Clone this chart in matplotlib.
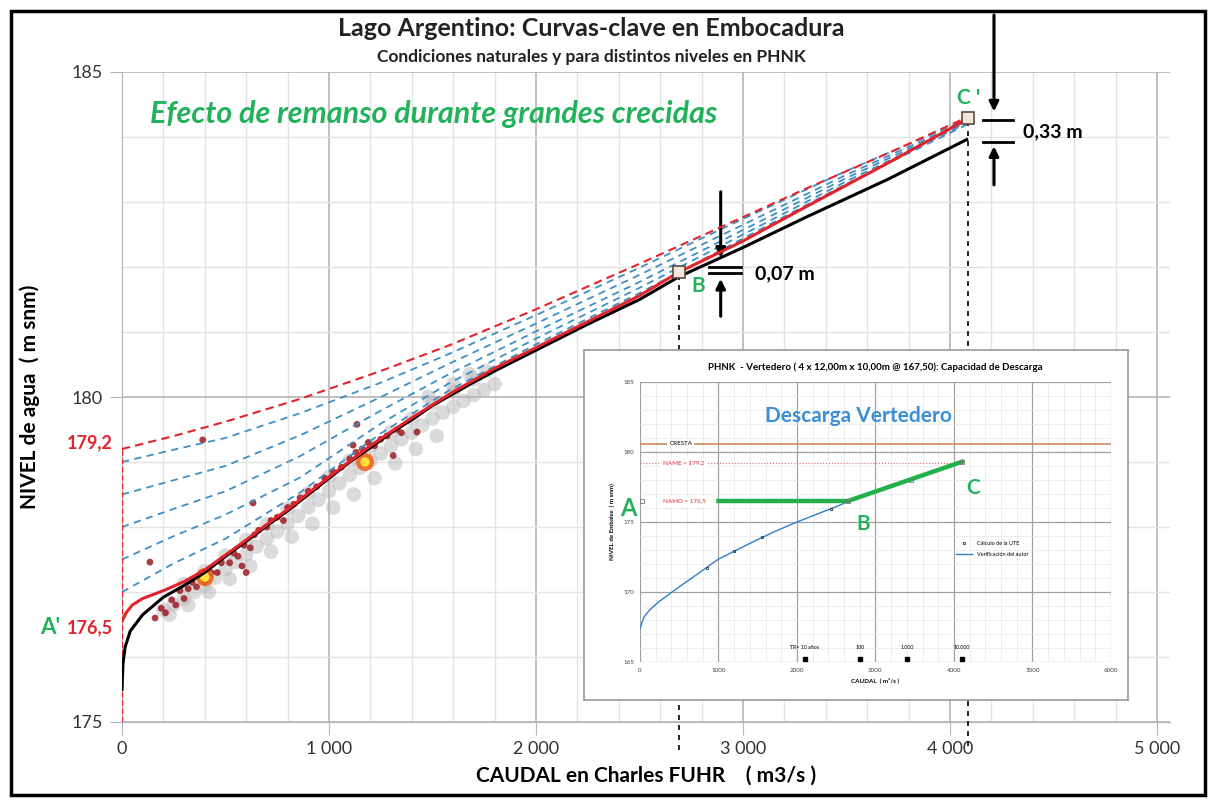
import matplotlib
matplotlib.use('Agg')
import matplotlib.pyplot as plt
from matplotlib.patches import Rectangle

plt.rcParams['font.family'] = ['Lato', 'DejaVu Sans']

# --- curva natural (negra) ---
Q_NAT = [0, 5, 15, 40, 100, 200, 300, 400, 500, 600, 700, 800, 900, 1000, 1100, 1200,
         1300, 1400, 1500, 1600, 1700, 1800, 2000, 2250, 2500, 2690, 3000, 3300, 3700, 4080]
H_NAT = [175.5, 175.9, 176.15, 176.4, 176.65, 176.92, 177.1, 177.3, 177.55, 177.78, 178.02,
         178.25, 178.5, 178.75, 179.0, 179.22, 179.45, 179.65, 179.87, 180.05, 180.23, 180.4,
         180.72, 181.12, 181.5, 181.85, 182.3, 182.76, 183.35, 183.96]

# --- PHNK en NAMO 176,5 (roja llena) ---
Q_NAMO = [0, 20, 50, 100, 200, 300, 400, 500, 600, 700, 800, 900, 1000, 1200, 1400, 1600,
          1800, 2000, 2250, 2500, 2690, 3000, 3300, 3700, 4080]
H_NAMO = [176.55, 176.68, 176.8, 176.9, 177.02, 177.16, 177.34, 177.57, 177.8, 178.04, 178.27,
          178.52, 178.77, 179.25, 179.68, 180.08, 180.44, 180.76, 181.16, 181.56, 181.92, 182.4,
          182.92, 183.6, 184.27]

# --- PHNK en NAME 179,2 (roja discontinua) ---
Q_NAME = [0, 250, 500, 860, 1250, 1585, 2000, 2500, 2800, 3300, 3700, 4080]
H_NAME = [179.2, 179.4, 179.62, 179.97, 180.4, 180.8, 181.35, 182.05, 182.48, 183.2, 183.75, 184.3]

# --- niveles intermedios en PHNK (azules) ---
Q_PHNK = [0, 250, 500, 860, 1250, 1585, 2000, 2500, 3000, 3500, 4080]
H_179_0 = [179.0, 179.19, 179.37, 179.75, 180.22, 180.67, 181.26, 181.99, 182.74, 183.48, 184.27]
H_178_5 = [178.5, 178.72, 178.94, 179.41, 180.0, 180.52, 181.13, 181.88, 182.65, 183.42, 184.25]
H_178_0 = [178.0, 178.28, 178.55, 179.09, 179.79, 180.36, 181.01, 181.77, 182.57, 183.37, 184.23]
H_177_5 = [177.5, 177.86, 178.19, 178.76, 179.59, 180.22, 180.9, 181.68, 182.5, 183.32, 184.21]
H_177_0 = [177.0, 177.44, 177.82, 178.53, 179.44, 180.11, 180.81, 181.6, 182.44, 183.28, 184.19]

# --- aforos (nube gris) ---
Q_GRAY = [200, 250, 300, 350, 400, 450, 500, 550, 600, 650, 700, 750, 800, 850, 900, 950, 1000,
          1050, 1100, 1150, 1200, 1250, 1300, 1350, 1400, 1450, 1500, 1550, 1600, 1650, 1700,
          1750, 1800,
          230, 320, 420, 520, 620, 720, 820, 920, 1020, 1120, 1220, 1320, 1420, 1520,
          300, 400, 500, 600, 700, 800, 900, 1000, 1100, 1200, 1300, 1400, 1500, 1600, 1700,
          1760, 1680, 1600, 1480]
H_GRAY = [176.72, 176.8, 176.9, 177.0, 177.1, 177.22, 177.35, 177.46, 177.58, 177.7, 177.82,
          177.93, 178.05, 178.17, 178.3, 178.42, 178.55, 178.67, 178.8, 178.91, 179.02, 179.13,
          179.25, 179.35, 179.45, 179.56, 179.67, 179.76, 179.85, 179.94, 180.03, 180.11, 180.2,
          176.65, 176.8, 177.0, 177.2, 177.4, 177.62, 177.85, 178.05, 178.3, 178.5, 178.75,
          178.98, 179.2, 179.4,
          177.12, 177.32, 177.56, 177.8, 178.04, 178.28, 178.52, 178.77, 179.02, 179.24, 179.46,
          179.67, 179.9, 180.08, 180.27,
          180.4, 180.35, 180.2, 180.0]

# --- aforos (puntos rojos) ---
Q_RED = [160, 190, 210, 240, 260, 280, 300, 320, 340, 360, 380, 400, 430, 460, 480, 520, 540,
         560, 590, 620, 640, 660, 700, 720, 750, 780, 800, 830, 860, 900, 940, 980, 1020, 1060,
         1100, 1130, 1160, 1190, 1220, 1250, 1280, 1310, 1330, 1350,
         135, 390, 633, 1116, 1135, 1425, 580, 600]
H_RED = [176.6, 176.75, 176.68, 176.88, 176.8, 177.02, 176.9, 177.05, 177.15, 177.08, 177.25,
         177.15, 177.3, 177.3, 177.45, 177.45, 177.6, 177.55, 177.72, 177.68, 177.88, 177.95,
         178.0, 178.1, 178.15, 178.1, 178.3, 178.35, 178.45, 178.55, 178.62, 178.75, 178.85,
         178.92, 179.05, 179.15, 179.2, 179.3, 179.25, 179.35, 179.4, 179.1, 179.5, 179.45,
         177.46, 179.34, 178.37, 179.26, 179.58, 179.46, 177.4, 177.3]

Q_HOT = [400, 1174]
H_HOT = [177.23, 179.0]

# puntos B y C'
Q_B, H_B = 2690, 181.92
Q_C, H_C = 4085, 184.29

# --- grafico insertado: vertedero ---
Q_VERT = [0, 50, 120, 240, 470, 750, 1000, 1250, 1500, 1750, 2000, 2250, 2500, 2650]
H_VERT = [167.4, 168.2, 168.7, 169.3, 170.25, 171.35, 172.35, 173.05, 173.75, 174.4, 175.0,
          175.55, 176.1, 176.45]
Q_UTE = [0, 850, 1200, 1560, 2430, 2650, 3450, 4100]
H_UTE = [176.5, 171.75, 172.95, 173.9, 175.95, 176.5, 178.0, 179.3]
Q_OPER = [1000, 2650, 4100]
H_OPER = [176.5, 176.5, 179.3]
Q_TR = [2100, 2800, 3400, 4100]
TR_LABELS = ['TR= 10 años', '100', '1.000', '10.000']
H_CRESTA = 180.6
H_NAME_V = 179.25
H_NAMO_V = 176.5

RED = '#e3232b'
BLUE = '#3d8fc4'
GREEN = '#23b15c'
DKRED = '#9c1b22'


def draw_main(ax):
  ax.scatter(Q_GRAY, H_GRAY, s=110, color='#b8b8b8', alpha=0.5, edgecolors='none', zorder=2)
  ax.scatter(Q_RED, H_RED, s=24, color=DKRED, alpha=0.85, edgecolors='none', zorder=3)
  ax.scatter(Q_HOT, H_HOT, s=170, color='#f0641e', alpha=0.9, edgecolors='none', zorder=4)
  ax.scatter(Q_HOT, H_HOT, s=45, color='#ffe13a', edgecolors='none', zorder=4)

  for h in [H_179_0, H_178_5, H_178_0, H_177_5, H_177_0]:
    ax.plot(Q_PHNK, h, color=BLUE, lw=1.3, dashes=(4, 3), zorder=3)
  ax.plot(Q_NAME, H_NAME, color=RED, lw=1.5, dashes=(4, 2.5), zorder=5)
  ax.plot([0, 0], [175, 179.2], color=RED, lw=1.0, dashes=(4, 2), zorder=5)
  ax.plot(Q_NAT, H_NAT, color='black', lw=2.2, zorder=5)
  ax.plot(Q_NAMO, H_NAMO, color=RED, lw=2.2, zorder=6)

  # puntos B y C'
  for q, h in [(Q_B, H_B), (Q_C, H_C)]:
    ax.plot([q, q], [h - 0.05, 174.55], color='black', lw=1.2, dashes=(3, 3),
            clip_on=False, zorder=4)
    ax.plot(q, h, marker='s', ms=9, mfc='#f4e6da', mec='#5a4a42', mew=1.2, zorder=7)

  # anotaciones de diferencias
  arr = dict(arrowstyle='-|>', color='black', lw=2.2, mutation_scale=14)
  ax.annotate('', xy=(2892, 182.1), xytext=(2892, 183.2), arrowprops=arr, annotation_clip=False)
  ax.annotate('', xy=(2892, 181.86), xytext=(2892, 181.2), arrowprops=arr, annotation_clip=False)
  for h in [182.0, 181.91]:
    ax.plot([2834, 2990], [h, h], color='black', lw=2, zorder=8)
  ax.text(3060, 181.9, '0,07 m', fontsize=14, fontweight='bold', va='center', ha='left')
  ax.text(2750, 181.7, 'B', fontsize=15, fontweight='bold', color=GREEN, va='center', ha='left')

  ax.annotate('', xy=(4212, 184.35), xytext=(4212, 185.92), arrowprops=arr, annotation_clip=False)
  ax.annotate('', xy=(4212, 183.9), xytext=(4212, 183.22), arrowprops=arr, annotation_clip=False)
  for h in [184.26, 183.93]:
    ax.plot([4160, 4305], [h, h], color='black', lw=2, zorder=8, clip_on=False)
  ax.text(4350, 184.08, '0,33 m', fontsize=14, fontweight='bold', va='center', ha='left')
  ax.text(4035, 184.6, "C '", fontsize=15, fontweight='bold', color=GREEN, va='center', ha='left')

  ax.text(135, 184.35, 'Efecto de remanso durante grandes crecidas', fontsize=22,
          fontweight='bold', fontstyle='italic', color=GREEN, va='center', ha='left')

  ax.text(-45, 179.3, '179,2', fontsize=13, fontweight='bold', color=RED, va='center', ha='right')
  ax.text(-45, 176.45, '176,5', fontsize=13, fontweight='bold', color=RED, va='center', ha='right')
  ax.text(-300, 176.45, "A'", fontsize=16, fontweight='bold', color=GREEN, va='center', ha='right')

  ax.set_xlim(0, 5063)
  ax.set_ylim(175, 185)
  ax.set_xticks([0, 1000, 2000, 3000, 4000, 5000])
  ax.set_xticklabels(['0', '1 000', '2 000', '3 000', '4 000', '5 000'])
  ax.set_yticks([175, 180, 185])
  ax.set_xticks(range(0, 5001, 200), minor=True)
  ax.set_yticks(range(175, 186), minor=True)
  ax.grid(which='minor', color='#e3e3e3', lw=1.0)
  ax.grid(which='major', color='#b5b5b5', lw=1.2)
  ax.tick_params(which='minor', length=0)
  ax.tick_params(which='major', length=9, color='#b5b5b5', labelsize=13, labelcolor='#333333', pad=5)
  for s in ['top', 'right']:
    ax.spines[s].set_visible(False)
  for s in ['left', 'bottom']:
    ax.spines[s].set_color('#b5b5b5')
  ax.set_axisbelow(True)
  ax.set_xlabel('CAUDAL en Charles FUHR    ( m3/s )', fontsize=15, fontweight='bold', labelpad=6)
  ax.set_ylabel('NIVEL de agua  ( m snm)', fontsize=15, fontweight='bold')
  ax.yaxis.set_label_coords(-0.078, 0.5)


def draw_inset(ax):
  ax.plot(Q_UTE[1:5], H_UTE[1:5], ls='none', marker='s', ms=2, mfc='none', mec='#333333',
          mew=0.6, zorder=4, label='Cálculo de la UTE')
  ax.plot(Q_VERT, H_VERT, color='#2f7fc8', lw=1.0, zorder=3, label='Verificación del autor')
  ax.plot(Q_OPER, H_OPER, color='#22b04b', lw=3.2, zorder=3)
  ax.plot(Q_UTE[5:], H_UTE[5:], ls='none', marker='s', ms=2.5, mfc='none', mec='#777777',
          mew=0.6, zorder=5)
  ax.plot(Q_UTE[0] + 30, H_UTE[0], ls='none', marker='s', ms=2.5, mfc='none', mec='#777777',
          mew=0.6, zorder=5, clip_on=False)
  ax.axhline(H_CRESTA, color='#c98a5c', lw=1.2, zorder=2)
  ax.plot([0, 4100], [H_NAME_V, H_NAME_V], color='#e06a70', lw=0.8, ls=':', zorder=2)
  ax.text(520, H_CRESTA, 'CRESTA', fontsize=4.5, ha='center', va='center',
          bbox=dict(fc='white', ec='none', pad=1.5), zorder=4)
  ax.text(560, H_NAME_V, 'NAME = 179,2', fontsize=4.5, color=RED, ha='center', va='center',
          bbox=dict(fc='white', ec='none', pad=1.5), zorder=4)
  ax.text(560, H_NAMO_V, 'NAMO = 176,5', fontsize=4.5, color=RED, ha='center', va='center',
          bbox=dict(fc='white', ec='none', pad=1.5), zorder=4)
  ax.text(-40, 176.0, 'A', fontsize=17, fontweight='bold', color=GREEN, ha='right', va='center')
  ax.text(2850, 174.85, 'B', fontsize=15, fontweight='bold', color=GREEN, ha='center', va='center')
  ax.text(4240, 177.4, 'C', fontsize=15, fontweight='bold', color=GREEN, ha='center', va='center')
  ax.text(2780, 182.6, 'Descarga Vertedero', fontsize=15, fontweight='bold', color='#3b8fd6',
          ha='center', va='center')
  for q, lab in zip(Q_TR, TR_LABELS):
    ax.plot(q, 165.25, marker='s', ms=2.5, color='black', zorder=5)
    ax.text(q, 165.85, lab, fontsize=3.8, ha='center', va='bottom')
  ax.legend(loc='upper left', bbox_to_anchor=(0.66, 0.45), fontsize=4, frameon=False,
            handlelength=3, labelspacing=1.0)

  ax.set_xlim(0, 6000)
  ax.set_ylim(165, 185)
  ax.set_xticks(range(0, 6001, 1000))
  ax.set_yticks([165, 170, 175, 180, 185])
  ax.set_xticks(range(0, 6001, 200), minor=True)
  ax.set_yticks(range(165, 186), minor=True)
  ax.grid(which='minor', color='#e6e6e6', lw=0.5)
  ax.grid(which='major', color='#a0a0a0', lw=0.9)
  ax.tick_params(which='both', length=0, labelsize=4.5, labelcolor='#444444', pad=4)
  for s in ax.spines.values():
    s.set_visible(False)
  ax.set_axisbelow(True)
  ax.set_title('PHNK  - Vertedero ( 4 x 12,00m x 10,00m @ 167,50): Capacidad de Descarga',
               fontsize=7, fontweight='bold', pad=9)
  ax.set_xlabel('CAUDAL  ( m³/s )', fontsize=4.5, fontweight='bold', labelpad=3)
  ax.set_ylabel('NIVEL de Embalse  ( m snm)', fontsize=4.5, fontweight='bold', labelpad=6)


fig = plt.figure(figsize=(12.16, 8), dpi=100)

ax = fig.add_axes([0.1003, 0.0975, 0.862, 0.8125], zorder=0)
draw_main(ax)

frame = fig.add_axes([0.4803, 0.125, 0.4474, 0.4375], zorder=2)
frame.set_xticks([])
frame.set_yticks([])
for s in frame.spines.values():
  s.set_color('#9a9a9a')
  s.set_linewidth(1.2)

inset = fig.add_axes([0.5263, 0.1725, 0.3873, 0.35], zorder=3)
draw_inset(inset)

fig.text(0.486, 0.965, 'Lago Argentino: Curvas-clave en Embocadura', fontsize=18,
         fontweight='bold', ha='center', va='center', color='#222222')
fig.text(0.486, 0.929, 'Condiciones naturales y para distintos niveles en PHNK', fontsize=12.5,
         fontweight='bold', ha='center', va='center', color='#222222')

fig.patches.append(Rectangle((0.009, 0.006), 0.982, 0.98, transform=fig.transFigure,
                             fill=False, ec='black', lw=2.5, zorder=10))

fig.savefig('out.png', dpi=100)
